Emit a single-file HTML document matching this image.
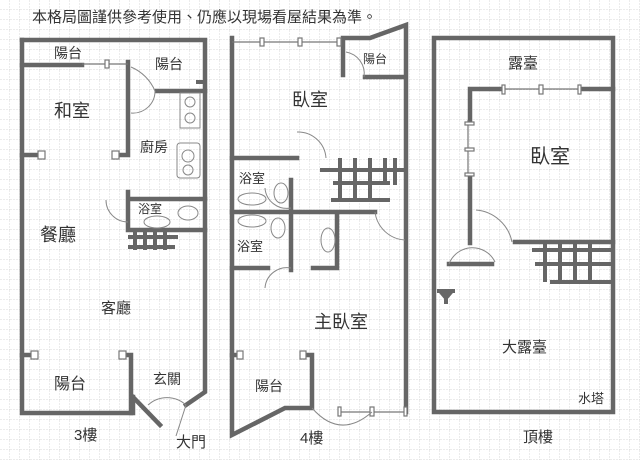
<!DOCTYPE html>
<html><head><meta charset="utf-8"><style>
html,body{margin:0;padding:0;background:#fff;}
svg{display:block;}
text{font-family:"Liberation Sans","Noto Sans CJK TC",sans-serif;fill:#333;}
</style></head><body>
<svg width="640" height="460" viewBox="0 0 640 460" xmlns="http://www.w3.org/2000/svg">
<defs>
<pattern id="g" width="10" height="10" patternUnits="userSpaceOnUse">
<path d="M10 0V10M0 10H10" fill="none" stroke="#d8d8d8" stroke-width="1" stroke-dasharray="2,1"/>
</pattern>
</defs>
<rect width="640" height="460" fill="#fff"/>
<rect width="640" height="460" fill="url(#g)"/>
<text x="32" y="22" font-size="15">本格局圖謹供參考使用、仍應以現場看屋結果為準。</text>

<g stroke="#666" stroke-width="4.5" fill="none" stroke-linecap="square">
<!-- 3F -->
<path d="M22 40H205V392L186 405"/>
<path d="M22 40V413H133V397"/>
<path d="M133 397L160 425"/>
<path d="M22 65H82M128 62V155H120M22 155H38"/>
<path d="M157 91H205"/>
<path d="M128 192V230H205M130 199H205"/>
<path d="M22 355H30M131 355V413M123 355H131"/>
<!-- 4F -->
<path d="M232 38V435L285 408H312V355H304"/>
<path d="M232 355H238"/>
<path d="M343 38V75M343 38H370L406 25V412M365 77H406"/>
<path d="M232 158H297M232 212H375M291 180V270M232 268H268M313 268H337M337 212V268"/>
<!-- top -->
<path d="M434 38H613V412H434Z"/>
<path d="M470 89H500M580 89H613M470 89V120M470 175V243M515 242H613M449 264H492"/>
</g>
<!-- windows -->
<g stroke="#777" stroke-width="1.2" fill="#fff">
<path d="M82 64H128M232 42H340M338 412H406M500 89H580M468 120V175"/>
<rect x="105" y="60" width="4" height="8"/><rect x="260" y="38" width="4" height="8"/><rect x="298" y="38" width="4" height="8"/><rect x="337" y="38" width="4" height="8"/>
<rect x="338" y="407" width="3" height="9"/><rect x="370" y="407" width="4" height="9"/><rect x="404" y="407" width="3" height="9"/>
<rect x="502" y="85" width="3" height="9"/><rect x="539" y="85" width="4" height="9"/><rect x="578" y="85" width="3" height="9"/>
<rect x="465" y="122" width="9" height="3"/><rect x="465" y="148" width="9" height="3"/><rect x="465" y="173" width="9" height="3"/>
<rect x="38" y="151" width="7" height="8"/><rect x="112" y="151" width="7" height="8"/>
<rect x="31" y="351" width="7" height="8"/><rect x="119" y="351" width="7" height="8"/>
<rect x="237" y="351" width="6" height="8"/><rect x="300" y="351" width="6" height="8"/>
</g>
<!-- door arcs -->
<g stroke="#888" stroke-width="1" fill="none">
<path d="M131 67A45 45 0 0 1 155 91M131 113A22 22 0 0 0 155 91"/>
<path d="M106 200A22 22 0 0 0 128 222"/>
<path d="M148 405A28 28 0 0 1 186 405L176 436"/>
<path d="M346 52A22 22 0 0 1 364 77"/>
<path d="M297 132A28 28 0 0 1 326 158"/>
<path d="M265 188A22 22 0 0 0 291 208M265 288A22 22 0 0 1 291 268"/>
<path d="M375 212A32 32 0 0 0 405 240"/>
<path d="M312 408Q340 440 372 412"/>
<path d="M476 210A40 40 0 0 1 512 242"/>
<path d="M449 264A25 25 0 0 1 495 262"/>
<rect x="180" y="93" width="20" height="35"/><circle cx="190" cy="102" r="5"/><circle cx="190" cy="118" r="5"/>
<rect x="177" y="143" width="23" height="35" rx="3"/><circle cx="188" cy="156" r="6"/><circle cx="188" cy="170" r="5"/>
<ellipse cx="157" cy="222" rx="13" ry="6"/><ellipse cx="188" cy="213" rx="10" ry="7"/>
<ellipse cx="252" cy="199" rx="14" ry="6"/><ellipse cx="281" cy="193" rx="7" ry="10"/>
<ellipse cx="252" cy="221" rx="14" ry="6"/><ellipse cx="278" cy="228" rx="7" ry="10"/>
<ellipse cx="328" cy="240" rx="7" ry="12"/>
</g>
<!-- stairs -->
<g stroke="#666" stroke-width="4" fill="none">
<path d="M128 237H178M128 247H175M135 232V250M145 232V250M155 232V250M165 232V250"/>
<path d="M320 170H405M333 183H390M331 200H390M340 158V200M355 158V200M370 158V200M385 158V185M395 158V185"/>
<path d="M532 250H612M535 264H612M550 282H612M545 242V282M560 242V282M575 242V282M590 242V282"/>
<path d="M437 291H455M446 291V304M440 291L446 298L452 291"/>
<path d="M196 82H205"/>
</g>
<!-- labels -->
<text x="54" y="58" font-size="14">陽台</text>
<text x="155" y="69" font-size="14">陽台</text>
<text x="54" y="117" font-size="18">和室</text>
<text x="140" y="152" font-size="14">廚房</text>
<text x="138" y="213" font-size="12">浴室</text>
<text x="40" y="241" font-size="18">餐廳</text>
<text x="101" y="313" font-size="15">客廳</text>
<text x="54" y="389" font-size="16">陽台</text>
<text x="153" y="384" font-size="14">玄關</text>
<text x="74" y="440" font-size="15">3樓</text>
<text x="176" y="447" font-size="15">大門</text>
<text x="363" y="63" font-size="12">陽台</text>
<text x="292" y="106" font-size="18">臥室</text>
<text x="239" y="183" font-size="13">浴室</text>
<text x="237" y="251" font-size="13">浴室</text>
<text x="314" y="328" font-size="18">主臥室</text>
<text x="255" y="391" font-size="14">陽台</text>
<text x="300" y="443" font-size="15">4樓</text>
<text x="508" y="68" font-size="15">露臺</text>
<text x="530" y="163" font-size="20">臥室</text>
<text x="502" y="352" font-size="15">大露臺</text>
<text x="578" y="403" font-size="13">水塔</text>
<text x="523" y="442" font-size="15">頂樓</text>
</svg>
</body></html>
